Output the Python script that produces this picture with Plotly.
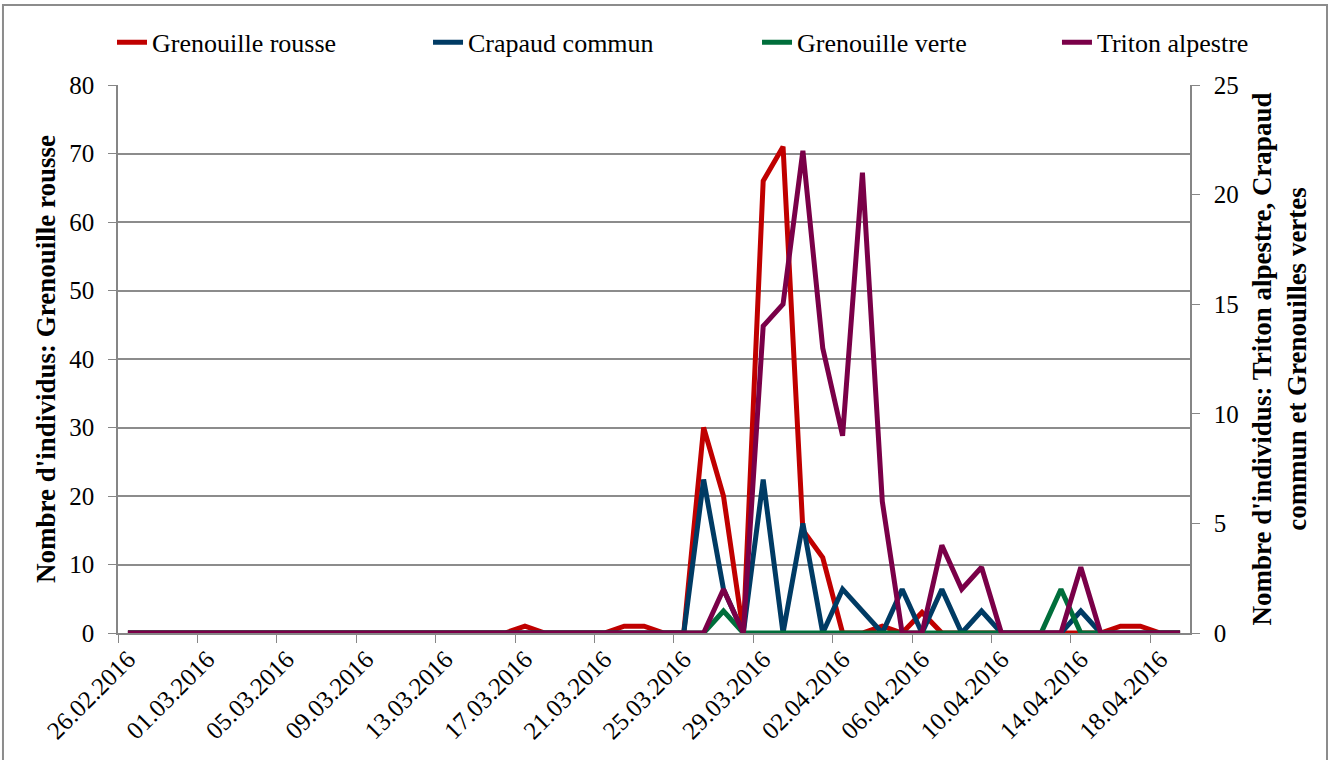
import plotly.graph_objects as go

dates = [
    "26.02.2016", "27.02.2016", "28.02.2016", "29.02.2016",
    "01.03.2016", "02.03.2016", "03.03.2016", "04.03.2016",
    "05.03.2016", "06.03.2016", "07.03.2016", "08.03.2016",
    "09.03.2016", "10.03.2016", "11.03.2016", "12.03.2016",
    "13.03.2016", "14.03.2016", "15.03.2016", "16.03.2016",
    "17.03.2016", "18.03.2016", "19.03.2016", "20.03.2016",
    "21.03.2016", "22.03.2016", "23.03.2016", "24.03.2016",
    "25.03.2016", "26.03.2016", "27.03.2016", "28.03.2016",
    "29.03.2016", "30.03.2016", "31.03.2016", "01.04.2016",
    "02.04.2016", "03.04.2016", "04.04.2016", "05.04.2016",
    "06.04.2016", "07.04.2016", "08.04.2016", "09.04.2016",
    "10.04.2016", "11.04.2016", "12.04.2016", "13.04.2016",
    "14.04.2016", "15.04.2016", "16.04.2016", "17.04.2016",
    "18.04.2016", "19.04.2016",
]

# counts per day
grenouille_rousse = [
    0, 0, 0, 0, 0, 0, 0, 0, 0, 0,
    0, 0, 0, 0, 0, 0, 0, 0, 0, 0,
    1, 0, 0, 0, 0, 1, 1, 0, 0, 30,
    20, 0, 66, 71, 15, 11, 0, 0, 1, 0,
    3, 0, 0, 0, 0, 0, 0, 0, 0, 0,
    1, 1, 0, 0,
]
crapaud_commun = [
    0, 0, 0, 0, 0, 0, 0, 0, 0, 0,
    0, 0, 0, 0, 0, 0, 0, 0, 0, 0,
    0, 0, 0, 0, 0, 0, 0, 0, 0, 7,
    2, 0, 7, 0, 5, 0, 2, 1, 0, 2,
    0, 2, 0, 1, 0, 0, 0, 0, 1, 0,
    0, 0, 0, 0,
]
grenouille_verte = [
    0, 0, 0, 0, 0, 0, 0, 0, 0, 0,
    0, 0, 0, 0, 0, 0, 0, 0, 0, 0,
    0, 0, 0, 0, 0, 0, 0, 0, 0, 0,
    1, 0, 0, 0, 0, 0, 0, 0, 0, 0,
    0, 0, 0, 0, 0, 0, 0, 2, 0, 0,
    0, 0, 0, 0,
]
triton_alpestre = [
    0, 0, 0, 0, 0, 0, 0, 0, 0, 0,
    0, 0, 0, 0, 0, 0, 0, 0, 0, 0,
    0, 0, 0, 0, 0, 0, 0, 0, 0, 0,
    2, 0, 14, 15, 22, 13, 9, 21, 6, 0,
    0, 4, 2, 3, 0, 0, 0, 0, 3, 0,
    0, 0, 0, 0,
]

# name, values, colour, y axis, legend id, legend x (paper)
series = [
    ("Grenouille rousse", grenouille_rousse, "#C00000", "y", "legend", -0.0056),
    ("Crapaud commun", crapaud_commun, "#003B64", "y2", "legend2", 0.2892),
    ("Grenouille verte", grenouille_verte, "#006E3B", "y2", "legend3", 0.5961),
    ("Triton alpestre", triton_alpestre, "#7A0048", "y2", "legend4", 0.8759),
]

FONT = "Liberation Serif"
AXIS_GREY = "#868686"

fig = go.Figure()

# one legend per series so each entry sits where Excel put it
legends = {}
for name, values, color, axis, leg, lx in series:
    fig.add_trace(go.Scatter(x=dates, y=values, mode="lines", name=name,
                             line=dict(color=color, width=5), yaxis=axis, legend=leg))
    legends[leg] = dict(orientation="h", x=lx, xanchor="left", y=1.078, yanchor="middle",
                        font=dict(family=FONT, size=26), bgcolor="rgba(0,0,0,0)")

fig.update_layout(
    width=1330, height=760,
    margin=dict(l=118, r=140, t=85, b=127),
    paper_bgcolor="white", plot_bgcolor="white",
    font=dict(family=FONT, size=25, color="black"),
    showlegend=True,
    **legends,
    xaxis=dict(
        type="category", range=[-0.5, len(dates) - 0.5],
        tickmode="linear", tick0=0, dtick=4, tickson="boundaries",
        tickangle=-45, ticks="outside", ticklen=8, tickcolor=AXIS_GREY,
        showline=True, linecolor=AXIS_GREY, linewidth=1.5,
        showgrid=False, tickfont=dict(family=FONT, size=25),
    ),
    yaxis=dict(
        range=[0, 80], dtick=10, ticks="outside", ticklen=8, tickcolor=AXIS_GREY,
        showline=True, linecolor=AXIS_GREY, linewidth=1.5,
        showgrid=True, gridcolor="#8C8C8C", gridwidth=1.5, zeroline=False,
        tickfont=dict(family=FONT, size=25), ticklabelstandoff=9,
        title=dict(text="<b>Nombre d'individus: Grenouille rousse</b>",
                   font=dict(family=FONT, size=27), standoff=6),
    ),
    yaxis2=dict(
        range=[0, 25], dtick=5, overlaying="y", side="right",
        ticks="outside", ticklen=8, tickcolor=AXIS_GREY,
        showline=True, linecolor=AXIS_GREY, linewidth=1.5,
        showgrid=False, zeroline=False,
        tickfont=dict(family=FONT, size=25), ticklabelstandoff=9,
        title=dict(text="<b>Nombre d'individus: Triton alpestre, Crapaud<br>commun et Grenouilles vertes</b>",
                   font=dict(family=FONT, size=27), standoff=14),
    ),
)

# outer chart frame
fig.add_shape(type="rect", xref="paper", yref="paper",
              x0=-0.1073, x1=1.1278, y0=-0.3, y1=1.146,
              line=dict(color="#8C8C8C", width=2), fillcolor="rgba(0,0,0,0)", layer="below")

# drop the browser's default 8px body margin so the figure sits at the page corner
fig.write_html("out.html", config={"displayModeBar": False},
               post_script="document.body.style.margin='0';")
